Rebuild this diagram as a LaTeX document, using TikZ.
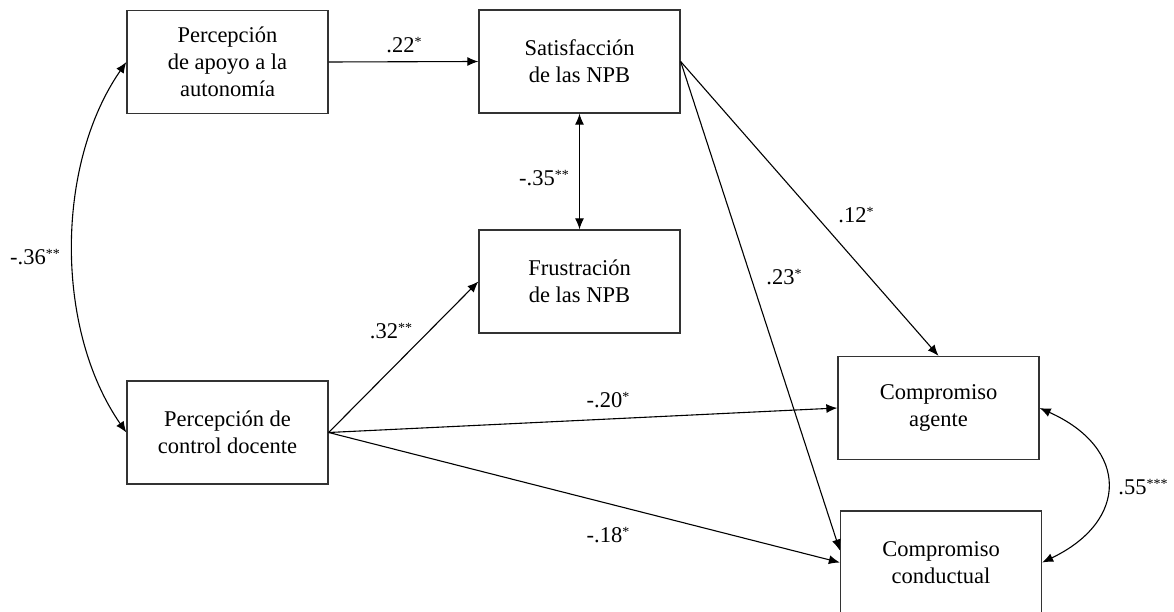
\documentclass[tikz,border=0pt]{standalone}
\usepackage{fontspec}
\setmainfont{Liberation Serif}
\usetikzlibrary{arrows.meta,calc}
\newcommand\sig[1]{\raisebox{6pt}{\fontsize{14}{14}\selectfont #1}}
\begin{document}
\begin{tikzpicture}[x=1pt,y=-1pt,
  box/.style={draw=black!80,line width=1.3pt,minimum width=201pt,minimum height=103pt,align=center,font=\fontsize{22.5}{27}\selectfont,inner sep=0pt},
  lab/.style={font=\fontsize{22.5}{27}\selectfont,inner sep=0pt},
  arr/.style={-{Latex[length=11pt,width=9pt]},line width=1.1pt},
  darr/.style={{Latex[length=11pt,width=9pt]}-{Latex[length=11pt,width=9pt]},line width=1.1pt}]
\useasboundingbox (0,0) rectangle (1174,612);
\clip (0,0) rectangle (1174,612);
\fill[white] (0,0) rectangle (1174,612);

\node[box] (apo) at (227.5,62) {Percepción\\de apoyo a la\\autonomía};
\node[box] (sat) at (579.5,61.5) {Satisfacción\\de las NPB};
\node[box] (fru) at (579.5,281.5) {Frustración\\de las NPB};
\node[box] (con) at (227.5,432.5) {Percepción de\\control docente};
\node[box] (age) at (938.5,408) {Compromiso\\agente};
\node[box] (cond) at (941,562.5) {Compromiso\\conductual};

\coordinate (condin) at ($(cond.west)+(0,-12)$);

\draw[arr] (apo.east) -- (sat.west);
\draw[darr] (sat.south) -- (fru.north);
\draw[arr] (sat.east) -- (age.north);
\draw[arr] (sat.east) -- (condin);
\draw[arr] (con.east) -- (fru.west);
\draw[arr] (con.east) -- (age.west);
\draw[arr] (con.east) -- (cond.west);
\draw[darr] (apo.west) .. controls (55,165) and (55,330) .. (con.west);
\draw[darr] (age.east) .. controls (1129,448) and (1129,521) .. (cond.east);

\node[lab] (l22) at (404,45) {.22\sig{*}};
\node[lab] (l35) at (544,178) {-.35\sig{**}};
\node[lab] (l12) at (856,215) {.12\sig{*}};
\node[lab] (l23) at (784,277) {.23\sig{*}};
\node[lab] (l32) at (391,331) {.32\sig{**}};
\node[lab] (l20) at (608,400) {-.20\sig{*}};
\node[lab] (l18) at (608,535) {-.18\sig{*}};
\node[lab] (l36) at (35,257) {-.36\sig{**}};
\node[lab] (l55) at (1143,487) {.55\sig{***}};
\end{tikzpicture}
\end{document}
